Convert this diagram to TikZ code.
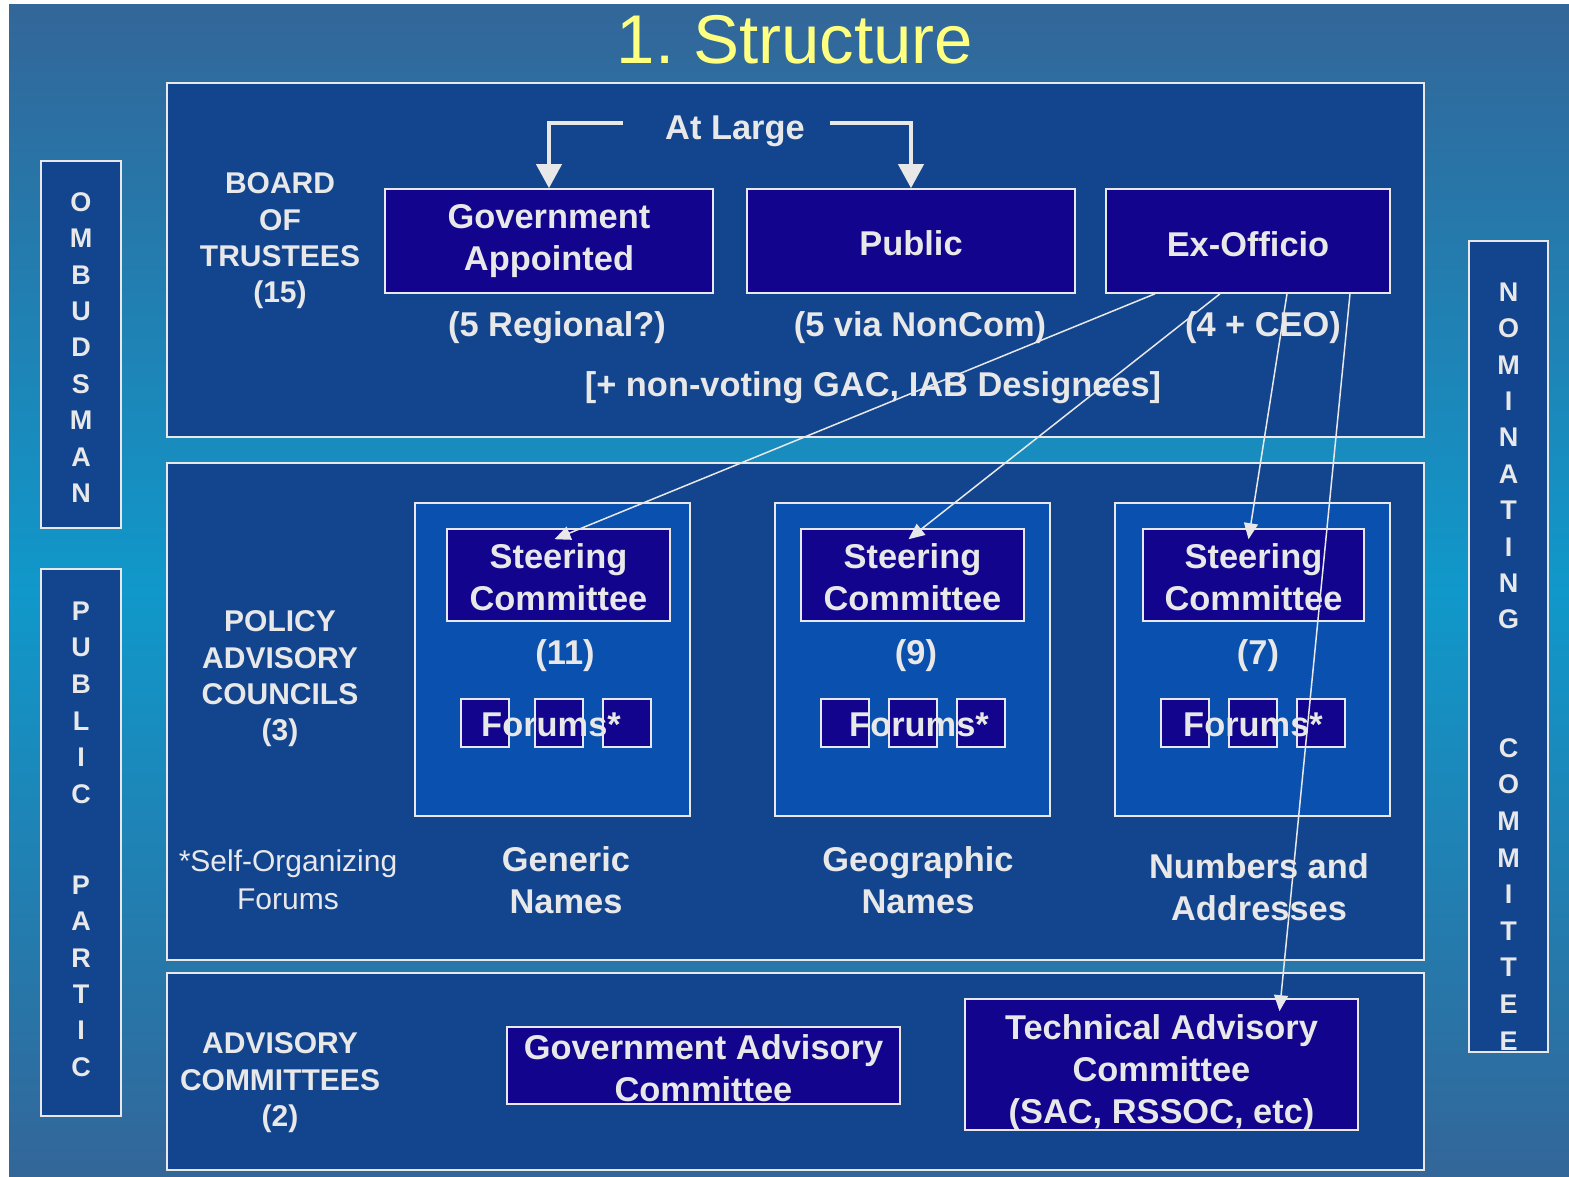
\documentclass[tikz,border=0pt]{standalone}
\usepackage{fontspec}
\setmainfont{Liberation Sans}
\usetikzlibrary{arrows.meta,positioning,calc}
\definecolor{bgdark}{RGB}{51,102,153}
\definecolor{bglight}{RGB}{16,152,202}
\definecolor{panel}{RGB}{19,69,143}
\definecolor{navy}{RGB}{18,4,140}
\definecolor{council}{RGB}{10,80,175}
\definecolor{ltgray}{RGB}{232,232,232}
\definecolor{titleyellow}{RGB}{255,255,128}

\begin{document}
\begin{tikzpicture}[x=0.5pt, y=-0.5pt,
    outerbox/.style = {draw=ltgray, line width=1pt, fill=panel, inner sep=0pt},
    councilbox/.style = {draw=ltgray, line width=0.8pt, fill=council, inner sep=0pt},
    darkbox/.style = {draw=ltgray, line width=0.8pt, fill=navy, text=ltgray, inner sep=0pt,
        align=center, font=\fontsize{17.2}{21}\selectfont\bfseries},
    forumbox/.style = {draw=ltgray, line width=0.8pt, fill=navy, inner sep=0pt, minimum size=24pt},
    boxtext/.style = {text=ltgray, inner sep=0pt, align=center, font=\fontsize{17.2}{21}\selectfont\bfseries},
    sidetext/.style = {text=ltgray, inner sep=0pt, align=center, font=\fontsize{15}{18.2}\selectfont\bfseries},
    vlet/.style = {text=ltgray, inner sep=0pt, font=\fontsize{13.5}{16}\selectfont\bfseries},
    bigarrow/.style = {draw=ltgray, line width=2pt, -{Triangle[length=12pt, width=12.5pt]}},
    thinarrow/.style = {draw=ltgray, line width=0.75pt, -{Triangle[length=8pt, width=7pt]}}]

    % background
    \useasboundingbox (0,0) rectangle (1569,1177);
    \fill[white] (0,0) rectangle (1569,1177);
    \fill[top color=bgdark, bottom color=bgdark, middle color=bglight] (9,5) rectangle (1569,1177);

    % title
    \node[text=titleyellow, inner sep=0pt, font=\fontsize{34.5}{40}\selectfont] (title) at (795,40) {1.\ Structure};

    % panels
    \node[outerbox, minimum width=628.5pt, minimum height=177pt] (board) at (795.5,260) {};
    \node[outerbox, minimum width=628.5pt, minimum height=248.5pt] (policy) at (795.5,711.5) {};
    \node[outerbox, minimum width=628.5pt, minimum height=98.5pt] (advis) at (795.5,1071.5) {};
    \node[outerbox, minimum width=40pt, minimum height=183.5pt] (ombud) at (81,344.5) {};
    \node[outerbox, minimum width=40pt, minimum height=273.5pt] (partic) at (81,842.5) {};
    \node[outerbox, minimum width=39.5pt, minimum height=405.5pt] (nomcom) at (1508.5,646.5) {};

    % side letters
    \foreach \l [count=\i from 0] in {O,M,B,U,D,S,M,A,N}
        \node[vlet] (om\i) at (81,{202+36.4*\i}) {\l};
    \foreach \l [count=\i from 0] in {P,U,B,L,I,C}
        \node[vlet] (pu\i) at (81,{611+36.6*\i}) {\l};
    \foreach \l [count=\i from 0] in {P,A,R,T,I,C}
        \node[vlet] (pa\i) at (81,{885+36.4*\i}) {\l};
    \foreach \l [count=\i from 0] in {N,O,M,I,N,A,T,I,N,G}
        \node[vlet] (no\i) at (1508.5,{292+36.4*\i}) {\l};
    \foreach \l [count=\i from 0] in {C,O,M,M,I,T,T,E,E}
        \node[vlet] (co\i) at (1508.5,{748+36.6*\i}) {\l};

    % board of trustees
    \node[sidetext] (bot) at (280,241) {BOARD\\OF\\TRUSTEES\\(15)};
    \node[darkbox, minimum width=164pt, minimum height=52pt] (gov) at (549,241) {Government\\Appointed};
    \node[darkbox, minimum width=164pt, minimum height=52pt] (pub) at (911,241) {};
    \node[darkbox, minimum width=142pt, minimum height=52pt] (exo) at (1248,241) {};
    \node[boxtext] (pubtext) at (911,243) {Public};
    \node[boxtext] (exotext) at (1248,244) {Ex-Officio};
    \node[boxtext] (atl) at (735,131) {At Large};
    \node[boxtext] (regional) at (557,328) {(5 Regional?)};
    \node[boxtext] (noncom) at (920,328) {(5 via NonCom)};
    \node[boxtext] (ceo) at (1263,328) {(4 + CEO)};
    \node[boxtext] (nonvote) at (873,388) {[+ non-voting GAC, IAB Designees]};

    % policy advisory councils
    \node[sidetext] (pac) at (280,679) {POLICY\\ADVISORY\\COUNCILS\\(3)};
    \node[text=ltgray, inner sep=0pt, align=center, font=\fontsize{15}{19}\selectfont] (selforg) at (288,880) {*Self-Organizing\\Forums};

    \node[councilbox, minimum width=137.5pt, minimum height=156.5pt] (gn) at (552.5,659.5) {};
    \node[councilbox, minimum width=137.5pt, minimum height=156.5pt] (geo) at (912.5,659.5) {};
    \node[councilbox, minimum width=137.5pt, minimum height=156.5pt] (num) at (1252.5,659.5) {};

    \node[darkbox, minimum width=111.5pt, minimum height=46pt] (sc1) at (558.5,575) {};
    \node[darkbox, minimum width=111.5pt, minimum height=46pt] (sc2) at (912.5,575) {};
    \node[darkbox, minimum width=110.5pt, minimum height=46pt] (sc3) at (1253.5,575) {};
    \node[boxtext] (sct1) at (558.5,577) {Steering\\Committee};
    \node[boxtext] (sct2) at (912.5,577) {Steering\\Committee};
    \node[boxtext] (sct3) at (1253.5,577) {Steering\\Committee};

    \node[boxtext] (n11) at (565,656) {(11)};
    \node[boxtext] (n9) at (916,656) {(9)};
    \node[boxtext] (n7) at (1258,656) {(7)};

    % forums
    \foreach \x [count=\i] in {485,559,627}
        \node[forumbox] (fa\i) at (\x,723) {};
    \foreach \x [count=\i] in {845,913,981}
        \node[forumbox] (fb\i) at (\x,723) {};
    \foreach \x [count=\i] in {1185,1253,1321}
        \node[forumbox] (fc\i) at (\x,723) {};
    \node[boxtext] (fta) at (551,725) {Forums*};
    \node[boxtext] (ftb) at (919,725) {Forums*};
    \node[boxtext] (ftc) at (1253,725) {Forums*};

    \node[boxtext] (gnlab) at (566,880) {Generic\\Names};
    \node[boxtext] (geolab) at (918,880) {Geographic\\Names};
    \node[boxtext] (numlab) at (1259,887) {Numbers and\\Addresses};

    % advisory committees
    \node[sidetext] (adc) at (280,1083) {ADVISORY\\COMMITTEES\\(2)};
    \node[darkbox, minimum width=196.5pt, minimum height=38.5pt] (gac) at (703.5,1065.5) {};
    \node[darkbox, minimum width=196.5pt, minimum height=65.5pt] (tac) at (1161.5,1064.5) {};
    \node[boxtext] (gactext) at (703.5,1068.5) {Government Advisory\\Committee};
    \node[boxtext] (tactext) at (1161.5,1072.5) {Technical Advisory\\Committee\\(SAC, RSSOC, etc)};

    % at large arrows
    \draw[bigarrow] ([xshift=-21pt,yshift=4pt]atl.west) -| (gov.north);
    \draw[bigarrow] ([xshift=12.5pt,yshift=4pt]atl.east) -| (pub.north);

    % ex-officio seats
    \draw[thinarrow] ([xshift=-46.5pt]exo.south) -- ([xshift=-2pt,yshift=-5.5pt]sc1.north);
    \draw[thinarrow] ([xshift=-14pt]exo.south) -- ([xshift=-2pt,yshift=-5.5pt]sc2.north);
    \draw[thinarrow] ([xshift=19.5pt]exo.south) -- ([xshift=-2.5pt,yshift=-5.5pt]sc3.north);
    \draw[thinarrow] ([xshift=51pt]exo.south) -- ([xshift=59pt,yshift=-6.5pt]tac.north);
\end{tikzpicture}
\end{document}
